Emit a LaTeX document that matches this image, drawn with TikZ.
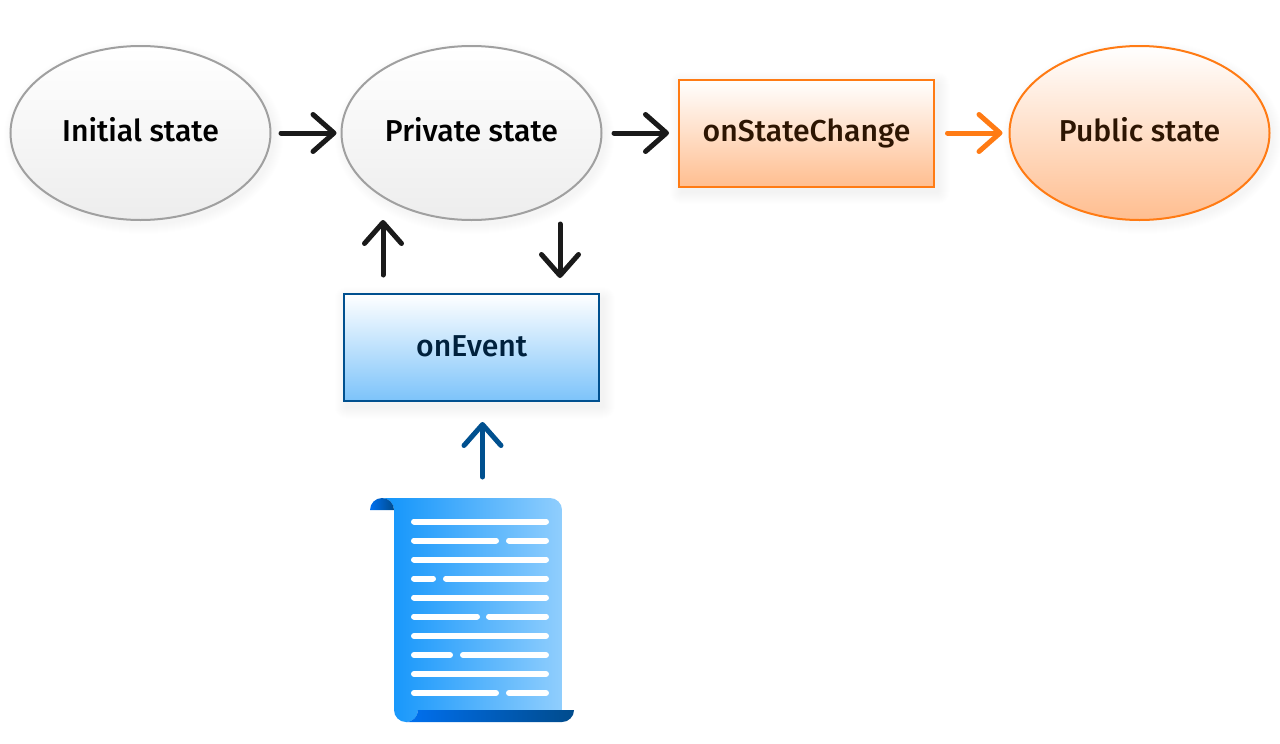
\documentclass[tikz,border=0pt]{standalone}
\usepackage{fontspec}
\setmainfont{Fira Sans}[BoldFont={Fira Sans Medium}]
\usetikzlibrary{arrows.meta,shapes.geometric}
\definecolor{inkblack}{HTML}{1A1A1A}
\definecolor{ornge}{HTML}{FF7B14}
\definecolor{orngefill}{HTML}{FFBE90}
\definecolor{dkblue}{HTML}{00508F}
\definecolor{ltblue}{HTML}{7CC3FA}
\definecolor{grayline}{HTML}{A0A0A0}
\definecolor{scrollA}{HTML}{1094FB}
\definecolor{scrollB}{HTML}{90CEFD}
\definecolor{rollA}{HTML}{0070F0}
\definecolor{rollB}{HTML}{004B8C}
\definecolor{orngetext}{HTML}{2D1502}
\definecolor{bluetext}{HTML}{00213D}
\tikzset{
  x=1pt,y=-1pt,
  label text/.style={font=\bfseries\fontsize{30.2}{36}\selectfont,text height=19.5pt,text depth=2pt},
  oval/.style={ellipse,minimum width=260pt,minimum height=174pt,inner sep=0pt,outer sep=0pt,line width=2pt,label text},
  grayoval/.style={oval,draw=grayline,top color=white,bottom color=black!7,text=black},
  orangeoval/.style={oval,draw=ornge,top color=white,bottom color=orngefill,text=orngetext},
  box/.style={rectangle,minimum width=255pt,minimum height=107pt,inner sep=0pt,outer sep=0pt,line width=2pt,label text},
  orangebox/.style={box,draw=ornge,top color=white,bottom color=orngefill,text=orngetext},
  bluebox/.style={box,draw=dkblue,top color=white,bottom color=ltblue,text=bluetext},
  flow/.style={line width=5pt,line cap=round,-{Straight Barb[length=21pt,width=37pt,line width=5pt,round]}},
  paperline/.style={line width=6pt,line cap=round,white},
}
\newcommand{\softrect}[4]{\foreach \g in {1,2,...,12}{\fill[black,opacity=0.005,rounded corners=\g pt] (#1-\g+3,#2-\g+5) rectangle (#3+\g+3,#4+\g+5);}}
\newcommand{\softoval}[4]{\foreach \g in {1,2,...,10}{\fill[black,opacity=0.004] (#1+3,#2+4) ellipse [x radius=#3+\g,y radius=#4+\g];}}
\begin{document}
\begin{tikzpicture}
\useasboundingbox (0,0) rectangle (1280,744);
\fill[white] (0,0) rectangle (1280,744);
\softoval{140.5}{133}{130}{87}
\softoval{471.5}{133}{130}{87}
\softoval{1139.5}{133}{130}{87}
\softrect{678.5}{79}{934.5}{187}
\softrect{343.5}{294}{600}{401.5}
\node[grayoval] (init) at (140.5,133) {Initial state};
\node[grayoval] (priv) at (471.5,133) {Private state};
\node[orangebox] (change) at (806.5,133) {onStateChange};
\node[orangeoval] (pub) at (1139.5,133) {Public state};
\node[bluebox,minimum width=255.5pt] (event) at (471.7,347.5) {onEvent};
% scroll
\shade[left color=scrollA,right color=scrollB] (382,498) -- (550,498) arc[start angle=-90,end angle=0,radius=12] -- (562,710) -- (418,710) arc[start angle=0,end angle=90,radius=12] arc[start angle=90,end angle=180,radius=12] -- (394,510) arc[start angle=0,end angle=-90,radius=12] -- cycle;
\shade[left color=rollA,right color=rollB] (370,510) arc[start angle=180,end angle=270,radius=12] arc[start angle=270,end angle=360,radius=12] -- cycle;
\shade[left color=rollA,right color=rollB] (418,710) -- (574,710) arc[start angle=0,end angle=90,radius=12] -- (406,722) arc[start angle=90,end angle=0,radius=12] -- cycle;
\coordinate (scrolltop) at (482.5,477);
\foreach \yy/\aa/\bb/\cc/\dd in {521.5/414/546//,540.5/414/496/509/546,559.5/414/546//,578.5/414/433/446/546,597.5/414/546//,616.5/414/477/489/546,636/414/546//,655/414/450/463/546,674/414/546//,693/414/496/509/546}{
  \ifx\cc\empty
    \draw[paperline] (\aa,\yy) -- (\bb,\yy);
  \else
    \draw[paperline] (\aa,\yy) -- (\bb,\yy);
    \draw[paperline] (\cc,\yy) -- (\dd,\yy);
  \fi
}
% connectors
\draw[flow,draw=inkblack,shorten <=10.5pt,shorten >=5pt] (init.east) -- (priv.west);
\draw[flow,draw=inkblack,shorten <=12.5pt,shorten >=10pt] (priv.east) -- (change.west);
\draw[flow,draw=ornge,shorten <=13.5pt,shorten >=7pt] (change.east) -- (pub.west);
\coordinate (upstart) at (383,275);
\coordinate (uptip) at (383,220);
\coordinate (downstart) at (560,224);
\coordinate (downtip) at (560,278);
\coordinate (inputtip) at (482.5,422);
\draw[flow,draw=inkblack] (upstart) -- (uptip);
\draw[flow,draw=inkblack] (downstart) -- (downtip);
\draw[flow,draw=dkblue] (scrolltop) -- (inputtip);
\end{tikzpicture}
\end{document}
